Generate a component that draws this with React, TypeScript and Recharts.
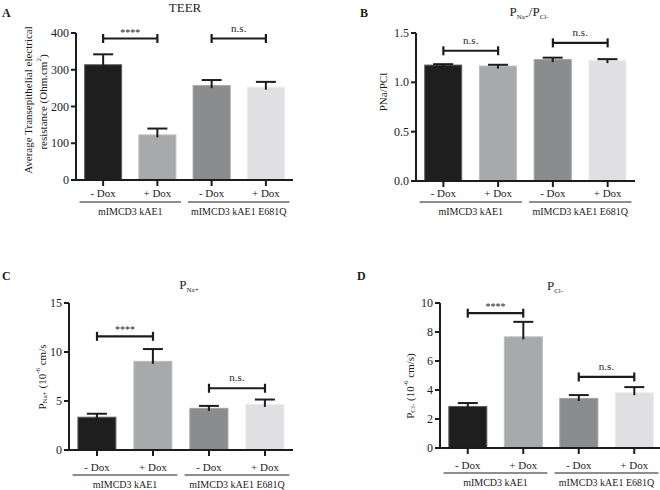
import React from "react";
import { BarChart, Bar, XAxis, YAxis, ReferenceLine } from "recharts";

const FONT = "'Liberation Serif', 'Times New Roman', serif";
const INK = "#1c1c1c";

// categories and labels
const categories = ["kAE1 -Dox", "kAE1 +Dox", "E681Q -Dox", "E681Q +Dox"];
const tickLabels = ["- Dox", "+ Dox", "- Dox", "+ Dox"];
const groups = ["mIMCD3 kAE1", "mIMCD3 kAE1 E681Q"];
const barColors = ["#1e1e1e", "#a8a9ab", "#8b8c8e", "#e0e0e2"];
const barEdges = ["#5e5e5e", "#bbbcbe", "#9e9fa1", "#ececee"];

// A: TEER
const teerMean = [315, 124, 258, 254];
const teerSem = [27, 16, 14, 13];
const teerTicks = [0, 100, 200, 300, 400];
// B: PNa/PCl
const ratioMean = [1.18, 1.17, 1.235, 1.225];
const ratioSem = [0.004, 0.008, 0.015, 0.01];
const ratioTicks = [0, 0.5, 1.0, 1.5];
// C: PNa+
const pnaMean = [3.4, 9.1, 4.3, 4.7];
const pnaSem = [0.3, 1.2, 0.2, 0.45];
const pnaTicks = [0, 5, 10, 15];
// D: PCl-
const pclMean = [2.9, 7.7, 3.45, 3.85];
const pclSem = [0.2, 1.0, 0.2, 0.35];
const pclTicks = [0, 2, 4, 6, 8, 10];

// significance brackets
const teerSig = [
  { from: 0, to: 1, level: 385, text: "****" },
  { from: 2, to: 3, level: 385, text: "n.s." },
];
const ratioSig = [
  { from: 0, to: 1, level: 1.32, text: "n.s." },
  { from: 2, to: 3, level: 1.4, text: "n.s." },
];
const pnaSig = [
  { from: 0, to: 1, level: 11.6, text: "****" },
  { from: 2, to: 3, level: 6.3, text: "n.s." },
];
const pclSig = [
  { from: 0, to: 1, level: 9.3, text: "****" },
  { from: 2, to: 3, level: 4.9, text: "n.s." },
];

type Gap = { label: number; line: number; group: number };

const makeTick = (gap: Gap) => (props: any) => {
  const { x, y, payload } = props;
  const i = payload.index ?? props.index;
  const off = payload.offset ?? 27;
  const axisY = y - 8;
  return (
    <g>
      <text x={x} y={axisY + gap.label} textAnchor="middle" fontSize={11} fontFamily={FONT} fill={INK}>
        {tickLabels[i]}
      </text>
      {i % 2 === 0 && (
        <g>
          <line
            x1={x - off * 0.87}
            x2={x + 2 * off + off * 0.87}
            y1={axisY + gap.line}
            y2={axisY + gap.line}
            stroke={INK}
            strokeWidth={1}
          />
          <text x={x + off} y={axisY + gap.group} textAnchor="middle" fontSize={10} fontFamily={FONT} fill={INK}>
            {groups[i / 2]}
          </text>
        </g>
      )}
    </g>
  );
};

const makeYTick = (fmt?: (v: number) => string) => (props: any) => {
  const { x, y, payload } = props;
  return (
    <text x={x} y={y} dy={4} textAnchor="end" fontSize={12} fontFamily={FONT} fill={INK}>
      {fmt ? fmt(payload.value) : payload.value}
    </text>
  );
};

const barShape = (props: any) => {
  const { x, y, width, height, index, payload } = props;
  const perUnit = payload.mean ? height / payload.mean : 0;
  const errTop = y - payload.sem * perUnit;
  const cx = x + width / 2;
  return (
    <g>
      <rect
        x={x + 0.5}
        y={y + 0.5}
        width={width - 1}
        height={Math.max(height - 1, 0)}
        fill={barColors[index]}
        stroke={barEdges[index]}
        strokeWidth={1}
      />
      <line x1={cx} x2={cx} y1={errTop} y2={y + 3} stroke={INK} strokeWidth={2} />
      <line x1={cx - 10} x2={cx + 10} y1={errTop} y2={errTop} stroke={INK} strokeWidth={2} />
    </g>
  );
};

const bracketShape = (props: any) => {
  const { x1, y1, x2, y2 } = props;
  return (
    <g>
      <line x1={x1} x2={x2} y1={y1} y2={y2} stroke={INK} strokeWidth={2.2} />
      <line x1={x1} x2={x1} y1={y1 - 4.5} y2={y1 + 4.5} stroke={INK} strokeWidth={2.2} />
      <line x1={x2} x2={x2} y1={y2 - 4.5} y2={y2 + 4.5} stroke={INK} strokeWidth={2.2} />
    </g>
  );
};

type PanelProps = {
  left: number;
  top: number;
  width: number;
  height: number;
  margin: { top: number; right: number; bottom: number; left: number };
  means: number[];
  sems: number[];
  ticks: number[];
  sig: { from: number; to: number; level: number; text: string }[];
  gap: Gap;
  fmt?: (v: number) => string;
};

function Panel({ left, top, width, height, margin, means, sems, ticks, sig, gap, fmt }: PanelProps) {
  const data = categories.map((c, i) => ({ name: c, mean: means[i], sem: sems[i] }));
  return (
    <div style={{ position: "absolute", left, top }}>
      <BarChart width={width} height={height} data={data} margin={margin} barCategoryGap="15%">
        <XAxis
          dataKey="name"
          height={40}
          interval={0}
          tickSize={6}
          axisLine={{ stroke: INK, strokeWidth: 2 }}
          tickLine={{ stroke: INK, strokeWidth: 2 }}
          tick={makeTick(gap)}
        />
        <YAxis
          width={40}
          type="number"
          domain={[ticks[0], ticks[ticks.length - 1]]}
          ticks={ticks}
          interval={0}
          tickSize={5}
          tickMargin={2}
          axisLine={{ stroke: INK, strokeWidth: 2 }}
          tickLine={{ stroke: INK, strokeWidth: 2 }}
          tick={makeYTick(fmt)}
        />
        <Bar dataKey="mean" isAnimationActive={false} shape={barShape} />
        {sig.map((s, k) => (
          <ReferenceLine
            key={k}
            segment={[
              { x: categories[s.from], y: s.level },
              { x: categories[s.to], y: s.level },
            ]}
            stroke={INK}
            shape={bracketShape}
            label={{
              value: s.text,
              position: "top",
              offset: s.text === "n.s." ? 7 : 3,
              fontSize: s.text === "n.s." ? 11 : 10,
              fontFamily: FONT,
              fill: INK,
            }}
          />
        ))}
      </BarChart>
    </div>
  );
}

export default function App() {
  const sub = { fontSize: 7 };
  return (
    <div
      style={{
        position: "absolute",
        left: 0,
        top: 0,
        width: 660,
        height: 490,
        overflow: "hidden",
        background: "#fff",
        fontFamily: FONT,
      }}
    >
      <Panel
        left={0}
        top={0}
        width={330}
        height={245}
        margin={{ top: 33, right: 37, left: 36, bottom: 25 }}
        means={teerMean}
        sems={teerSem}
        ticks={teerTicks}
        sig={teerSig}
        gap={{ label: 17, line: 22, group: 35 }}
      />
      <Panel
        left={330}
        top={0}
        width={330}
        height={245}
        margin={{ top: 33, right: 25, left: 46, bottom: 24 }}
        means={ratioMean}
        sems={ratioSem}
        ticks={ratioTicks}
        sig={ratioSig}
        gap={{ label: 16, line: 21, group: 34 }}
        fmt={(v) => v.toFixed(1)}
      />
      <Panel
        left={0}
        top={245}
        width={330}
        height={245}
        margin={{ top: 58, right: 37, left: 29, bottom: 0 }}
        means={pnaMean}
        sems={pnaSem}
        ticks={pnaTicks}
        sig={pnaSig}
        gap={{ label: 21, line: 25, group: 38 }}
      />
      <Panel
        left={330}
        top={245}
        width={334}
        height={245}
        margin={{ top: 58, right: 2, left: 70, bottom: 2 }}
        means={pclMean}
        sems={pclSem}
        ticks={pclTicks}
        sig={pclSig}
        gap={{ label: 21, line: 25, group: 38 }}
      />
      <svg
        width={660}
        height={490}
        style={{ position: "absolute", left: 0, top: 0, pointerEvents: "none" }}
        fontFamily={FONT}
        fill={INK}
      >
        {/* panel letters */}
        <text x={2} y={17} fontSize={12} fontWeight="bold">A</text>
        <text x={360} y={17} fontSize={12} fontWeight="bold">B</text>
        <text x={2} y={280} fontSize={12} fontWeight="bold">C</text>
        <text x={357} y={280} fontSize={12} fontWeight="bold">D</text>

        {/* titles */}
        <text x={185} y={12} fontSize={13} textAnchor="middle">TEER</text>
        <text x={529} y={16} fontSize={13} textAnchor="middle">
          P<tspan {...sub} dy={3}>Na+</tspan>
          <tspan dy={-3}>/P</tspan>
          <tspan {...sub} dy={3}>Cl-</tspan>
        </text>
        <text x={189} y={289} fontSize={13} textAnchor="middle">
          P<tspan {...sub} dy={3}>Na+</tspan>
        </text>
        <text x={555} y={290} fontSize={13} textAnchor="middle">
          P<tspan {...sub} dy={3}>Cl-</tspan>
        </text>

        {/* y-axis labels */}
        <text transform="translate(28,100) rotate(-90)" fontSize={11} textAnchor="middle" dominantBaseline="central">
          Average Transepithelial electrical
        </text>
        <text transform="translate(43,102) rotate(-90)" fontSize={11} textAnchor="middle" dominantBaseline="central">
          resistance (Ohm.cm<tspan {...sub} dy={-4}>2</tspan>
          <tspan dy={4}>)</tspan>
        </text>
        <text transform="translate(383,92) rotate(-90)" fontSize={11} textAnchor="middle" dominantBaseline="central">
          PNa/PCl
        </text>
        <text transform="translate(42,377) rotate(-90)" fontSize={11} textAnchor="middle" dominantBaseline="central">
          P<tspan {...sub} dy={3}>Na+</tspan>
          <tspan dy={-3}> (10</tspan>
          <tspan {...sub} dy={-4}>-6</tspan>
          <tspan dy={4}> cm/s</tspan>
        </text>
        <text transform="translate(410,386) rotate(-90)" fontSize={11} textAnchor="middle" dominantBaseline="central">
          P<tspan {...sub} dy={3}>Cl-</tspan>
          <tspan dy={-3}> (10</tspan>
          <tspan {...sub} dy={-4}>-6</tspan>
          <tspan dy={4}> cm/s)</tspan>
        </text>
      </svg>
    </div>
  );
}
